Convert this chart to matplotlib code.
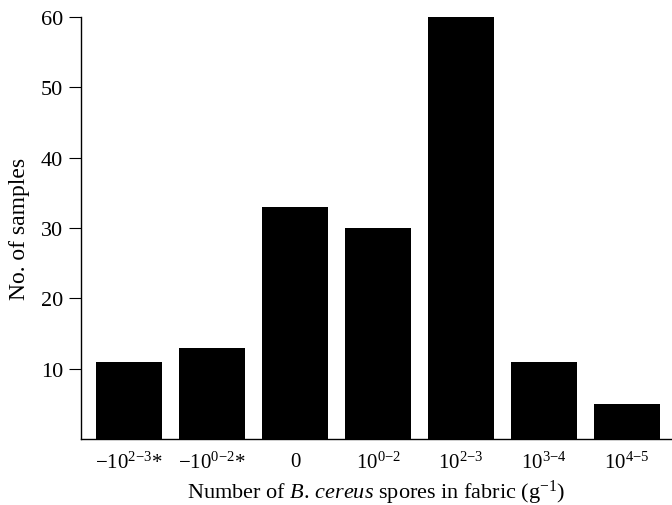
import matplotlib
matplotlib.use("Agg")
import matplotlib.pyplot as plt

categories = [r"$-10^{2\mathrm{-}3}$*", r"$-10^{0\mathrm{-}2}$*", "0", r"$10^{0\mathrm{-}2}$",
              r"$10^{2\mathrm{-}3}$", r"$10^{3\mathrm{-}4}$", r"$10^{4\mathrm{-}5}$"]
counts = [11, 13, 33, 30, 60, 11, 5]
yticks = [10, 20, 30, 40, 50, 60]

plt.rcParams['font.family'] = ['Liberation Serif', 'DejaVu Serif']
plt.rcParams['mathtext.fontset'] = 'custom'
plt.rcParams['mathtext.rm'] = 'Liberation Serif'
plt.rcParams['mathtext.it'] = 'Liberation Serif:italic'

fig = plt.figure(figsize=(6.72, 5.06), dpi=100)
ax = fig.add_axes([0.1205, 0.1304, 0.8795, 0.834])
x = list(range(len(categories)))
ax.bar(x, counts, width=0.8, color='black')
ax.set_xlim(-0.58, 6.54)
ax.set_ylim(0, 60)
ax.set_yticks(yticks)
ax.set_xticks(x)
ax.set_xticklabels(categories)
for s in ['top', 'right']:
    ax.spines[s].set_visible(False)
for s in ['left', 'bottom']:
    ax.spines[s].set_linewidth(1.0)
ax.tick_params(axis='y', direction='out', length=9, labelsize=16, pad=4)
ax.tick_params(axis='x', length=0, labelsize=15, pad=9)
ax.set_ylabel("No. of samples", fontsize=17, labelpad=8)
ax.set_xlabel(r"Number of $\mathit{B.\,cereus}$ spores in fabric (g$^{-1}$)", fontsize=16, labelpad=4)
fig.savefig("out.png", dpi=100)
